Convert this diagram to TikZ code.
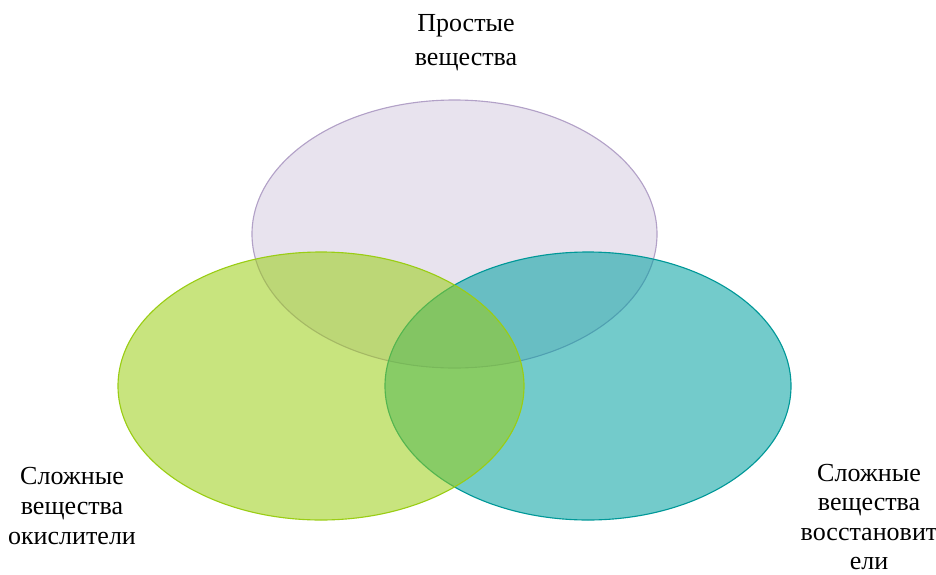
\documentclass[tikz,border=0pt]{standalone}
\usepackage{fontspec}
\setmainfont{Liberation Serif}
\usepackage{xcolor}
\usepackage{tikz}

\definecolor{simpleC}{RGB}{178,161,199}
\definecolor{oxC}{RGB}{154,205,20}
\definecolor{redC}{RGB}{0,160,160}

\tikzset{
  setellipse/.style={line width=0.8pt,fill opacity=#1,draw opacity=1},
  setlabel/.style={align=center,font=\fontsize{18.5}{21}\selectfont,inner sep=0pt}
}

\begin{document}
\begin{tikzpicture}[x=0.025cm,y=-0.025cm]
  \useasboundingbox (0,0) rectangle (936,574);
  % three sets
  \draw[simpleC,fill=simpleC,setellipse=0.3] (454.5,234) ellipse (202.5 and 134);
  \draw[redC!95!black,fill=redC,setellipse=0.55] (588,386) ellipse (203 and 134);
  \draw[oxC,fill=oxC,setellipse=0.55] (321,386) ellipse (203 and 134);
  % labels
  \node[setlabel,font=\fontsize{18.5}{24}\selectfont] (simple) at (466,43) {Простые\\вещества};
  \node[setlabel] (oxid) at (72,506) {Сложные\\вещества\\окислители};
  \node[setlabel] (reduc) at (869,517) {Сложные\\вещества\\восстановит\\ели};
\end{tikzpicture}
\end{document}
